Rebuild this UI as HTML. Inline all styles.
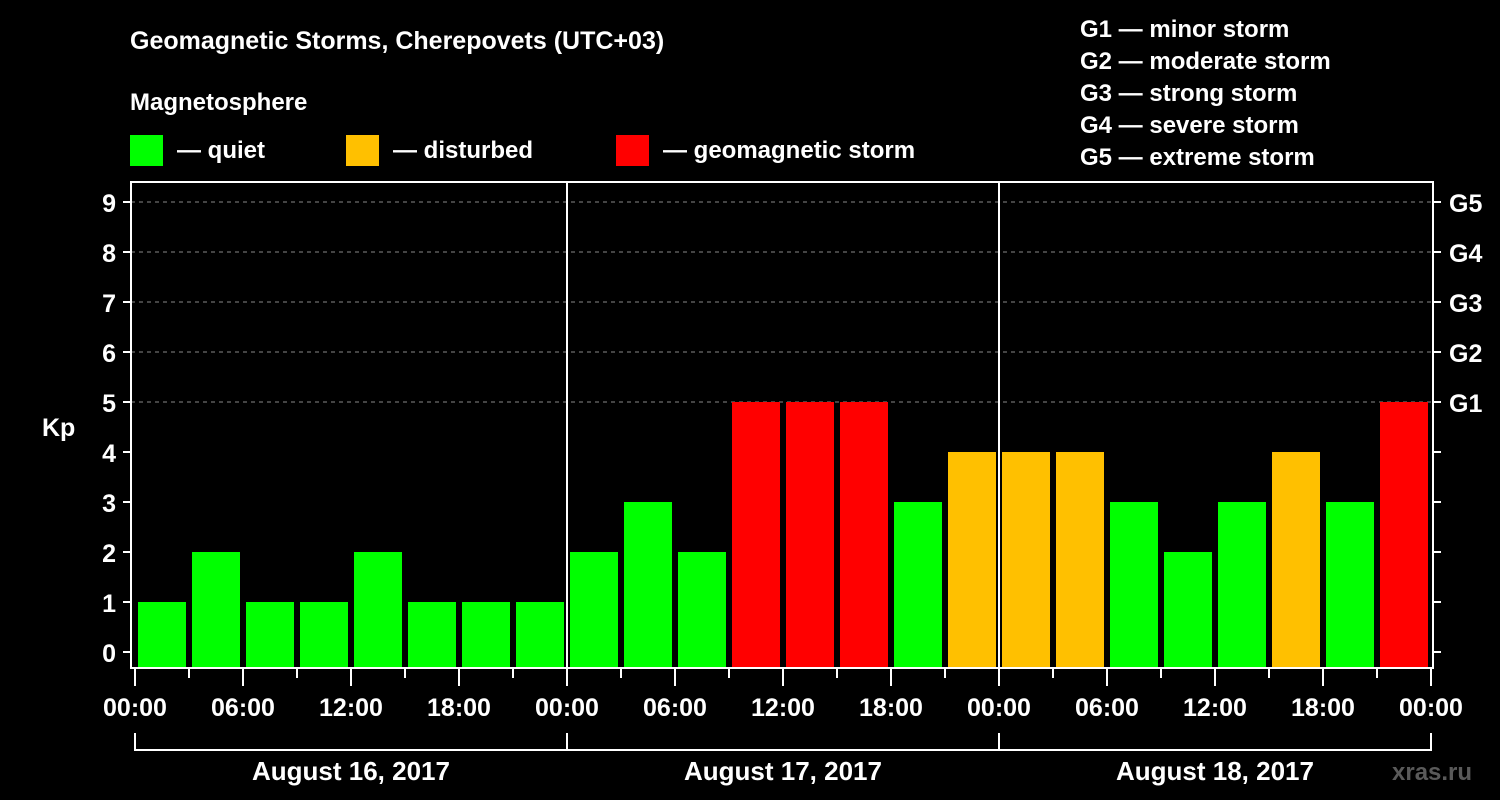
<!DOCTYPE html>
<html><head><meta charset="utf-8"><style>
html,body{margin:0;padding:0;background:#000;width:1500px;height:800px;overflow:hidden}
svg text{font-family:"Liberation Sans",Arial,sans-serif;font-weight:bold;fill:#fff}
</style></head><body>
<svg id="chart" width="1500" height="800" viewBox="0 0 1500 800" xmlns="http://www.w3.org/2000/svg">
<text x="130" y="49" font-size="25">Geomagnetic Storms, Cherepovets (UTC+03)</text>
<text x="130" y="110" font-size="24">Magnetosphere</text>
<g><rect x="130" y="135" width="33" height="31" fill="#00ff00"/><text x="177" y="158" font-size="24">— quiet</text></g>
<g><rect x="346" y="135" width="33" height="31" fill="#ffc000"/><text x="393" y="158" font-size="24">— disturbed</text></g>
<g><rect x="616" y="135" width="33" height="31" fill="#ff0000"/><text x="663" y="158" font-size="24">— geomagnetic storm</text></g>
<g font-size="24">
<text x="1080" y="37">G1 — minor storm</text>
<text x="1080" y="69">G2 — moderate storm</text>
<text x="1080" y="101">G3 — strong storm</text>
<text x="1080" y="133">G4 — severe storm</text>
<text x="1080" y="165">G5 — extreme storm</text>
</g>
<g id="plot"></g>
<text x="1392" y="780" font-size="24" fill="#555" style="fill:#5a5a5a">xras.ru</text>
</svg>
<script>
const days = ["August 16, 2017","August 17, 2017","August 18, 2017"];
const kpValues = [1,2,1,1,2,1,1,1, 2,3,2,5,5,5,3,4, 4,4,3,2,3,4,3,5];
const yTicks = [0,1,2,3,4,5,6,7,8,9];
const gLabels = ["G1","G2","G3","G4","G5"];
const xTickLabels = ["00:00","06:00","12:00","18:00"];

const NS="http://www.w3.org/2000/svg";
const g=document.getElementById('plot');
const x0=135, dayW=432, fL=131, fR=1433, fT=182, fB=668;
const xs = h => x0 + h*dayW/24;           // hours from start
const ys = v => 652 - v*50;
function el(t,a,p){const e=document.createElementNS(NS,t);for(const k in a)e.setAttribute(k,a[k]);(p||g).appendChild(e);return e;}
function color(v){return v>=5?"#ff0000":(v>=4?"#ffc000":"#00ff00");}

// grid lines G1..G5
gLabels.forEach((lab,i)=>{
  const y=ys(5+i);
  const l=el('line',{x1:fL,x2:fR,y1:y,y2:y,stroke:"#888","stroke-dasharray":"4,4","stroke-width":1});
  
  
  const t=el('text',{x:1449,y:y+10,"font-size":"25"});t.textContent=lab;
  
  
});
// bars
kpValues.forEach((v,i)=>{
  const x=xs(i*3)+3;
  const r=el('rect',{x:x,y:ys(v),width:48,height:fB-ys(v),fill:color(v)});
  
  
});
// frame
const fr=el('rect',{x:fL,y:fT,width:fR-fL,height:fB-fT,fill:"none",stroke:"#fff","stroke-width":2});


// day separators
[1,2].forEach(d=>{
  const l=el('line',{x1:xs(d*24),x2:xs(d*24),y1:fT,y2:fB,stroke:"#fff","stroke-width":2});
  
  
});
// y ticks
yTicks.forEach(v=>{
  const y=ys(v);
  el('line',{x1:123,x2:fL,y1:y,y2:y,stroke:"#fff","stroke-width":2});
  el('line',{x1:fR,x2:1441,y1:y,y2:y,stroke:"#fff","stroke-width":2});
  const t=el('text',{x:116,y:y+10,"font-size":"25","text-anchor":"end"});t.textContent=v;
  
  
});
const kp=el('text',{x:42,y:436,"font-size":"25"});kp.textContent="Kp";


// x ticks
for(let h=0;h<=72;h+=3){
  const major=h%6===0;
  el('line',{x1:xs(h),x2:xs(h),y1:fB,y2:major?686:678,stroke:"#fff","stroke-width":2});
  if(major){
    const t=el('text',{x:xs(h),y:716,"font-size":"25","text-anchor":"middle"});
    t.textContent=xTickLabels[(h/6)%4];
    
    
  }
}
// day brackets
el('line',{x1:xs(0),x2:xs(72),y1:750,y2:750,stroke:"#fff","stroke-width":2});
for(let d=0;d<=3;d++) el('line',{x1:xs(d*24),x2:xs(d*24),y1:733,y2:751,stroke:"#fff","stroke-width":2});
days.forEach((lab,d)=>{
  const t=el('text',{x:xs(d*24+12),y:780,"font-size":"26","text-anchor":"middle"});t.textContent=lab;
  
  
});
</script>
</body></html>
